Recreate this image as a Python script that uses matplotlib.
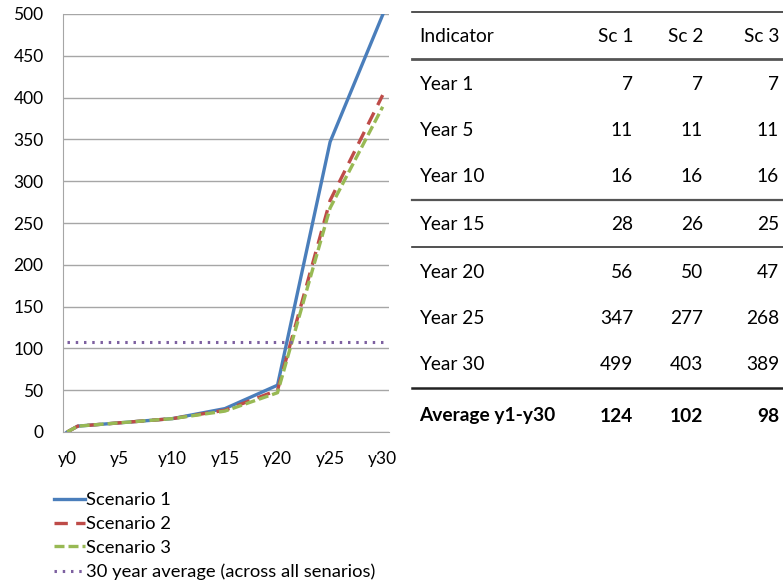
import matplotlib.pyplot as plt

plt.rcParams['font.family'] = ['Lato', 'DejaVu Sans']

# data
years = [0, 1, 5, 10, 15, 20, 25, 30]
sc1 = [0, 7, 11, 16, 28, 56, 347, 499]
sc2 = [0, 7, 11, 16, 26, 50, 277, 403]
sc3 = [0, 7, 11, 16, 25, 47, 268, 389]
avg_all = 108
avg_span = [0, 30]
tick_years = [0, 5, 10, 15, 20, 25, 30]
tick_labels = ['y0', 'y5', 'y10', 'y15', 'y20', 'y25', 'y30']

row_names = ['Year 1', 'Year 5', 'Year 10', 'Year 15', 'Year 20', 'Year 25', 'Year 30']
t_sc1 = [7, 11, 16, 28, 56, 347, 499]
t_sc2 = [7, 11, 16, 26, 50, 277, 403]
t_sc3 = [7, 11, 16, 25, 47, 268, 389]
avg_row = ['Average y1-y30', 124, 102, 98]
col_names = ['Indicator', 'Sc 1', 'Sc 2', 'Sc 3']

W, H = 783, 586
fig = plt.figure(figsize=(W / 100, H / 100), dpi=100)

# chart
ax = fig.add_axes([63 / W, (H - 432) / H, 326 / W, 418 / H])
ax.plot(years, sc1, color='#4A7EBB', lw=2.4, label='Scenario 1')
ax.plot(years, sc2, color='#BE4B48', lw=2.4, dashes=(4, 2.5), label='Scenario 2')
ax.plot(years, sc3, color='#98B954', lw=2.4, dashes=(3, 1.2), label='Scenario 3')
ax.plot(avg_span, [avg_all, avg_all], color='#7D60A0', lw=2.2, dashes=(0.8, 1.9),
        label='30 year average (across all senarios)')
ax.set_xlim(-0.4, 30.6)
ax.set_ylim(0, 500)
ax.set_yticks(range(0, 501, 50))
ax.set_xticks(tick_years)
ax.set_xticklabels(tick_labels)
ax.tick_params(length=0, labelsize=12.5, colors='black')
ax.tick_params(axis='x', pad=14)
ax.tick_params(axis='y', pad=14)
ax.yaxis.grid(True, color='#A6A6A6', lw=1)
ax.set_axisbelow(True)
for s in ['top', 'right']:
    ax.spines[s].set_visible(False)
ax.spines['left'].set_color('#A6A6A6')
ax.spines['bottom'].set_color('#A6A6A6')

ax.legend(loc='upper left', bbox_to_anchor=(47 / W, 1 - 485 / H), bbox_transform=fig.transFigure,
          frameon=False, fontsize=13.2, handlelength=1.65, handletextpad=0.08,
          labelspacing=0.42, borderaxespad=0)

# table
tx = fig.add_axes([0, 0, 1, 1])
tx.set_xlim(0, W)
tx.set_ylim(H, 0)
tx.axis('off')
col_x = [419, 633, 703, 779]
fs = 13.8
for i, c in enumerate(col_names):
    tx.text(col_x[i], 36, c, ha='left' if i == 0 else 'right', va='center', fontsize=fs)
row_y = [84, 131, 177, 225, 272, 318, 365]
for j, name in enumerate(row_names):
    y = row_y[j]
    tx.text(col_x[0], y, name, ha='left', va='center', fontsize=fs)
    for k, v in enumerate([t_sc1[j], t_sc2[j], t_sc3[j]]):
        tx.text(col_x[k + 1], y, str(v), ha='right', va='center', fontsize=fs)
for k, v in enumerate(avg_row):
    tx.text(col_x[k], 416, str(v), ha='left' if k == 0 else 'right', va='center',
            fontsize=fs, fontweight='bold')
for y, c, lw in [(12, '#333333', 1.2), (59, '#555555', 2), (200, '#555555', 1.6),
                 (247, '#333333', 1.2), (388, '#222222', 1.8)]:
    tx.plot([412, 783], [y, y], color=c, lw=lw)

fig.savefig('out.png', dpi=100)
